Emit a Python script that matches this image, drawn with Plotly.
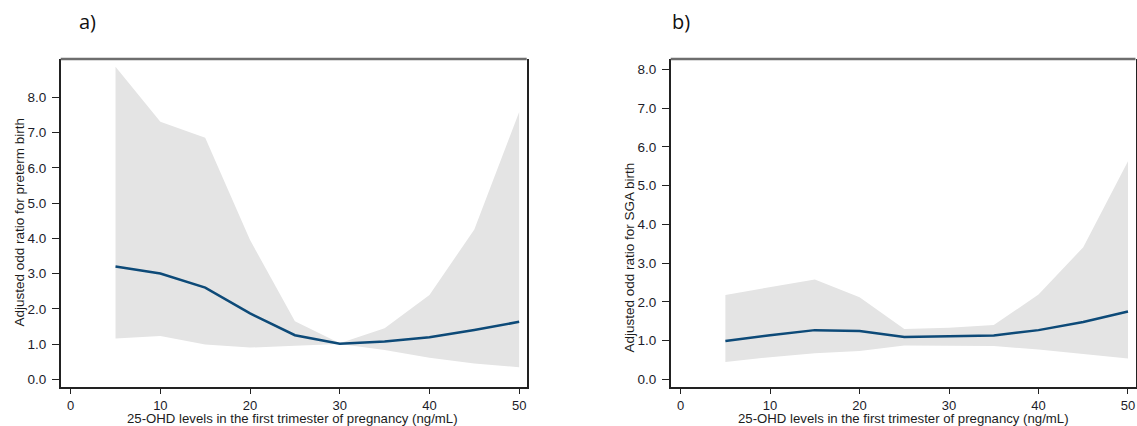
import plotly.graph_objects as go

# ---- data ----
vitd = [5, 10, 15, 20, 25, 30, 35, 40, 45, 50]

pre_or = [3.20, 3.00, 2.60, 1.87, 1.25, 1.01, 1.07, 1.19, 1.40, 1.63]
pre_lo = [1.16, 1.23, 0.99, 0.90, 0.95, 1.00, 0.83, 0.61, 0.45, 0.34]
pre_hi = [8.87, 7.31, 6.85, 3.95, 1.65, 1.02, 1.45, 2.39, 4.25, 7.58]

sga_or = [0.99, 1.14, 1.27, 1.25, 1.09, 1.11, 1.13, 1.27, 1.48, 1.75]
sga_lo = [0.45, 0.57, 0.67, 0.73, 0.87, 0.87, 0.86, 0.77, 0.65, 0.54]
sga_hi = [2.18, 2.38, 2.58, 2.12, 1.30, 1.33, 1.40, 2.19, 3.41, 5.63]

x_ticks = [0, 10, 20, 30, 40, 50]
y_ticks = [0, 1, 2, 3, 4, 5, 6, 7, 8]
y_tick_text = [f"{v:.1f}" for v in y_ticks]

x_title = "25-OHD levels in the first trimester of pregnancy (ng/mL)"
y_title_a = "Adjusted odd ratio for preterm birth"
y_title_b = "Adjusted odd ratio for SGA birth"

LINE = "#0d4a78"
BAND = "#e4e4e4"
W, H = 1137, 426

fig = go.Figure()

def add_panel(xa, ya, lo, hi, est):
    fig.add_trace(go.Scatter(x=vitd, y=lo, mode="lines", line=dict(width=0, color=BAND),
                             xaxis=xa, yaxis=ya, showlegend=False, hoverinfo="skip"))
    fig.add_trace(go.Scatter(x=vitd, y=hi, mode="lines", line=dict(width=0, color=BAND),
                             fill="tonexty", fillcolor=BAND,
                             xaxis=xa, yaxis=ya, showlegend=False, hoverinfo="skip"))
    fig.add_trace(go.Scatter(x=vitd, y=est, mode="lines", line=dict(width=2.5, color=LINE),
                             xaxis=xa, yaxis=ya, showlegend=False))

add_panel("x", "y", pre_lo, pre_hi, pre_or)
add_panel("x2", "y2", sga_lo, sga_hi, sga_or)

ydom = [1 - 387.3 / H, 1 - 59 / H]
tickfont = dict(family="Liberation Sans, Arial, sans-serif", size=13.5, color="#1c1c2a")
xtickfont = dict(family="Liberation Sans, Arial, sans-serif", size=13, color="#1c1c2a")

xcommon = dict(range=[-1.11, 50.84], tickmode="array", tickvals=x_ticks,
               ticks="outside", ticklen=5, tickwidth=1.3, tickcolor="#222",
               showline=True, linecolor="#222", linewidth=1.5, mirror=False,
               showgrid=False, zeroline=False, tickfont=xtickfont, ticklabelstandoff=0)
ycommon = dict(tickmode="array", tickvals=y_ticks, ticktext=y_tick_text,
               ticks="outside", ticklen=7, tickwidth=1.3, tickcolor="#222",
               showline=True, linecolor="#222", linewidth=1.5, mirror=True,
               showgrid=False, zeroline=False, tickfont=tickfont, ticklabelstandoff=3)

fig.update_layout(
    width=W, height=H,
    margin=dict(l=0, r=0, t=0, b=0),
    paper_bgcolor="white", plot_bgcolor="white",
    xaxis=dict(domain=[60.7 / W, 526.7 / W], anchor="y", **xcommon),
    yaxis=dict(domain=ydom, anchor="x", range=[-0.227, 9.087], **ycommon),
    xaxis2=dict(domain=[670.7 / W, 1135.5 / W], anchor="y2", **xcommon),
    yaxis2=dict(domain=ydom, anchor="x2", range=[-0.206, 8.27], **ycommon),
)

# gray top frame lines
for x0, x1 in [(60.7, 526.7), (670.7, 1135.5)]:
    fig.add_shape(type="line", xref="paper", yref="paper",
                  x0=x0 / W, x1=x1 / W, y0=1 - 59 / H, y1=1 - 59 / H,
                  line=dict(color="#6e6e6e", width=2.5))

titlefont = dict(family="Liberation Sans, Arial, sans-serif", size=13.5, color="#1c1c1c")
ann = [
    dict(text=x_title, x=292 / W, y=1 - 418 / H, font=dict(titlefont, size=13.2)),
    dict(text=x_title, x=903 / W, y=1 - 418 / H, font=dict(titlefont, size=13.2)),
    dict(text=y_title_a, x=18.5 / W, y=1 - 222 / H, textangle=-90, font=titlefont),
    dict(text=y_title_b, x=628.5 / W, y=1 - 258 / H, textangle=-90, font=titlefont),
]
for a in ann:
    fig.add_annotation(xref="paper", yref="paper", showarrow=False,
                       xanchor="center", yanchor="middle", **a)

panelfont = dict(family="Open Sans, DejaVu Sans, sans-serif", size=20, color="#111")
fig.add_annotation(text="a)", xref="paper", yref="paper", x=77 / W, y=1 - 22 / H,
                   xanchor="left", yanchor="middle", showarrow=False, font=panelfont)
fig.add_annotation(text="b)", xref="paper", yref="paper", x=670 / W, y=1 - 22 / H,
                   xanchor="left", yanchor="middle", showarrow=False, font=panelfont)

fig.write_html("out.html", config={"displayModeBar": False},
               post_script="document.body.style.margin='0';document.body.style.overflow='hidden';")
